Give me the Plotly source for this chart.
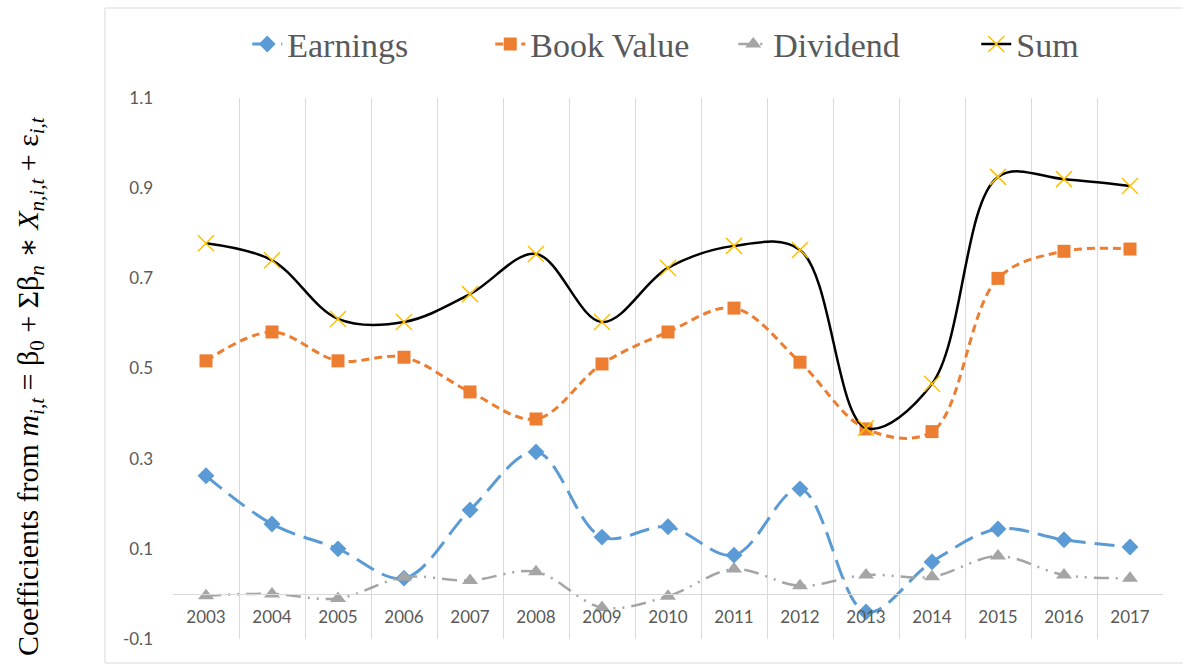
import plotly.graph_objects as go

years = ["2003", "2004", "2005", "2006", "2007", "2008", "2009", "2010",
         "2011", "2012", "2013", "2014", "2015", "2016", "2017"]
earnings = [0.262, 0.155, 0.100, 0.035, 0.186, 0.315, 0.126, 0.149,
            0.086, 0.233, -0.040, 0.071, 0.144, 0.120, 0.104]
book_value = [0.517, 0.581, 0.517, 0.525, 0.448, 0.388, 0.510, 0.581,
              0.634, 0.514, 0.366, 0.360, 0.700, 0.760, 0.765]
dividend = [-0.004, 0.000, -0.010, 0.037, 0.030, 0.049, -0.030, -0.005,
            0.055, 0.018, 0.042, 0.038, 0.084, 0.042, 0.035]
sum_vals = [0.778, 0.740, 0.610, 0.603, 0.665, 0.754, 0.603, 0.723,
            0.772, 0.763, 0.368, 0.466, 0.925, 0.920, 0.905]
y_ticks = [-0.1, 0.1, 0.3, 0.5, 0.7, 0.9, 1.1]
y_tick_text = ["-0.1", "0.1", "0.3", "0.5", "0.7", "0.9", "1.1"]

SERIF = "Liberation Serif, Times New Roman, Tinos, DejaVu Serif, serif"

fig = go.Figure()
fig.add_trace(go.Scatter(
    x=years, y=earnings, name="Earnings", mode="lines+markers",
    line=dict(color="#5B9BD5", width=3, dash="20px,9px", shape="spline", smoothing=1),
    marker=dict(symbol="diamond", size=13, color="#5B9BD5")))
fig.add_trace(go.Scatter(
    x=years, y=book_value, name="Book Value", mode="lines+markers",
    line=dict(color="#ED7D31", width=3, dash="8px,5px", shape="spline", smoothing=1),
    marker=dict(symbol="square", size=13, color="#ED7D31")))
fig.add_trace(go.Scatter(
    x=years, y=dividend, name="Dividend", mode="lines+markers",
    line=dict(color="#A5A5A5", width=2.5, dash="15px,7px,2px,7px,2px,7px",
              shape="spline", smoothing=1),
    marker=dict(symbol="triangle-up", size=14, color="#A5A5A5")))
fig.add_trace(go.Scatter(
    x=years, y=sum_vals, name="Sum", mode="lines+markers",
    line=dict(color="#000000", width=2.5, shape="spline", smoothing=1),
    marker=dict(symbol="x-thin", size=16, line=dict(color="#FFC000", width=1.5))))

ytitle = ("Coefficients from <i>m</i><sub><i>i,t</i></sub> = β<sub>0</sub> + "
          "Σβ<sub><i>n</i></sub> ∗ <i>X</i><sub><i>n,i,t</i></sub> + ε<sub><i>i,t</i></sub>")

fig.update_layout(
    width=1183, height=664,
    paper_bgcolor="white", plot_bgcolor="white",
    margin=dict(l=173, r=20, t=98, b=25, autoexpand=False),
    showlegend=True,
    legend=dict(orientation="h", x=0.075, xanchor="left", y=1.099, yanchor="middle",
                font=dict(family=SERIF, size=34, color="#595959"),
                entrywidth=198, entrywidthmode="pixels",
                bgcolor="rgba(0,0,0,0)"),
    xaxis=dict(type="category", tickson="boundaries", range=[-0.5, 14.5],
               showgrid=True, gridcolor="#D9D9D9", gridwidth=1,
               showline=True, linecolor="#D9D9D9", linewidth=1,
               anchor="free", position=0.1 / 1.2, ticks="",
               ticklabelstandoff=8,
               tickfont=dict(family="Lato", size=17, color="#595959"),
               zeroline=False),
    yaxis=dict(range=[-0.1, 1.1], tickvals=y_ticks, ticktext=y_tick_text,
               showgrid=False, zeroline=False, showline=False, ticks="",
               ticklabelstandoff=19,
               tickfont=dict(family="Lato", size=17, color="#595959")),
    annotations=[dict(text=ytitle, textangle=-90, xref="paper", yref="paper",
                      x=(30 - 173) / 990, y=(639 - 386) / 541,
                      xanchor="center", yanchor="middle", showarrow=False,
                      font=dict(family=SERIF, size=30, color="#000000"))],
    shapes=[dict(type="rect", xref="paper", yref="paper",
                 x0=(105 - 173) / 990, x1=1.05, y0=(639 - 663) / 541, y1=(639 - 8) / 541,
                 line=dict(color="#D9D9D9", width=1), fillcolor="rgba(0,0,0,0)",
                 layer="below")],
)

fig.write_html("out.html", config={"displayModeBar": False},
               post_script="document.body.style.margin='0';document.body.style.overflow='hidden';")
